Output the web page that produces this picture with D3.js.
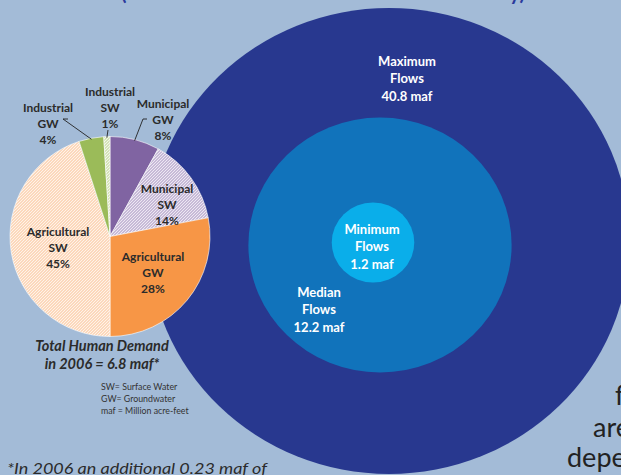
<!DOCTYPE html>
<html><head><meta charset="utf-8">
<script src="https://cdn.jsdelivr.net/npm/d3@7"></script>
<style>
html,body{margin:0;padding:0;background:#A3BBD7;overflow:hidden;}
svg{display:block;}
text{font-family:Lato,"Open Sans",sans-serif;}
</style></head>
<body>
<svg id="chart" width="621" height="475"></svg>
<script>
// ---- data ----
const flowNames = ["Maximum", "Median", "Minimum"];
const flowValues = [40.8, 12.2, 1.2];
const flowUnit = "maf";

const pieUses = ["Municipal", "Municipal", "Agricultural", "Agricultural", "Industrial", "Industrial"];
const pieSources = ["GW", "SW", "GW", "SW", "GW", "SW"];
const pieValues = [8, 14, 28, 45, 4, 1];

const demandLines = ["Total Human Demand", "in 2006 = 6.8 maf*"];
const noteLines = ["SW= Surface Water", "GW= Groundwater", "maf =  Million acre-feet"];
const footnote = "*In 2006 an additional 0.23 maf of";
const sideFragments = ["f", "are", "depe"];
const subtitle = "(Based on Natural Flow Records at Lees Ferry)";

// ---- styling / layout ----
const W = 621, H = 475;
const svg = d3.select("#chart");
const defs = svg.append("defs");
const useColor = {Municipal: "#8064A2", Agricultural: "#F79646", Industrial: "#9BBB59"};
const flowColors = ["#28388F", "#1173BB", "#0AAEEA"];

// hatch patterns for surface-water slices
function hatch(id, color, bg) {
  const p = defs.append("pattern").attr("id", id).attr("patternUnits", "userSpaceOnUse")
    .attr("width", 3).attr("height", 3);
  p.append("rect").attr("width", 3).attr("height", 3).attr("fill", bg);
  p.append("path").attr("d", "M-1,1 l2,-2 M0,3 l3,-3 M2,4 l2,-2")
    .attr("stroke", color).attr("stroke-width", 0.7);
}
hatch("h-Municipal", "#8064A2", "#EDE8F3");
hatch("h-Agricultural", "#F5A66A", "#FFF3E8");
hatch("h-Industrial", "#9BBB59", "#F2F6E8");

// subtitle sliver at very top
svg.append("text").attr("x", 323).attr("y", 0).attr("text-anchor", "middle")
  .attr("font-weight", "bold").attr("font-size", 20).attr("fill", "#2B3A9C")
  .attr("textLength", 404).attr("lengthAdjust", "spacingAndGlyphs").text(subtitle);

// ---- flow circles (area proportional to value) ----
const rScale = d3.scaleSqrt().domain([0, d3.max(flowValues)]).range([0, 233]);
const stretch = 1.033;
const centers = [[389, 241], [380, 245], [373, 242.5]];
const flows = flowNames.map((n, i) => ({name: n, value: flowValues[i], c: centers[i], color: flowColors[i]}));
svg.append("g").selectAll("ellipse").data(flows).join("ellipse")
  .attr("cx", d => d.c[0]).attr("cy", d => d.c[1])
  .attr("rx", d => rScale(d.value) * stretch).attr("ry", d => rScale(d.value))
  .attr("fill", d => d.color);

const flowLabelPos = [[407, 61], [319, 292], [372, 229]];
flows.forEach((d, i) => {
  const t = svg.append("text").attr("text-anchor", "middle").attr("fill", "#fff")
    .attr("font-weight", "bold").attr("font-size", 13);
  [d.name, "Flows", d.value + " " + flowUnit].forEach((s, j) => {
    t.append("tspan").attr("x", flowLabelPos[i][0]).attr("y", flowLabelPos[i][1] + 4.5 + j * 17.5).text(s);
  });
});

// ---- pie ----
const pcx = 110, pcy = 236.5, pr = 100;
const pieData = pieValues.map((v, i) => ({use: pieUses[i], src: pieSources[i], value: v}));
const arcs = d3.pie().sort(null).value(d => d.value)(pieData);
const arc = d3.arc().innerRadius(0).outerRadius(pr);
const pg = svg.append("g").attr("transform", `translate(${pcx},${pcy})`);
pg.selectAll("path").data(arcs).join("path").attr("d", arc)
  .attr("fill", d => d.data.src === "GW" ? useColor[d.data.use] : `url(#h-${d.data.use})`)
  .attr("stroke", "#fff").attr("stroke-width", 0.6);

// labels (relative offsets from pie centre), leader elbows
const labelOff = [[53, -132.5], [57, -47.5], [43, 20.5], [-52, -4.5], [-62, -128.5], [0, -144.5]];
const elbow = [[[37, -117.5], [33, -117.5]], null, null, null, [[-42, -117.5], [-47, -117.5]], [[-2, -106.5]]];
const lbl = svg.append("g").attr("transform", `translate(${pcx},${pcy})`);
arcs.forEach((a, i) => {
  const d = a.data;
  const t = lbl.append("text").attr("text-anchor", "middle").attr("fill", "#2B2B2B")
    .attr("font-weight", "bold").attr("font-size", 12);
  [d.use, d.src, d.value + "%"].forEach((s, j) => {
    t.append("tspan").attr("x", labelOff[i][0]).attr("y", labelOff[i][1] + 4 + j * 16).text(s);
  });
  if (elbow[i]) {
    const mid = (a.startAngle + a.endAngle) / 2;
    const end = [Math.sin(mid) * pr * 0.99, -Math.cos(mid) * pr * 0.99];
    const pts = elbow[i].concat([end]);
    lbl.append("path").attr("d", d3.line()(pts)).attr("fill", "none")
      .attr("stroke", "#222").attr("stroke-width", 0.9);
  }
});

// demand caption
const dt = svg.append("text").attr("text-anchor", "middle").attr("fill", "#2B2B2B")
  .attr("font-weight", "bold").attr("font-style", "italic").attr("font-size", 14.5);
demandLines.forEach((s, j) => dt.append("tspan").attr("x", 102).attr("y", 351 + j * 17.5).text(s));

// abbreviations note
const nt = svg.append("text").attr("fill", "#333").attr("font-size", 8.8);
noteLines.forEach((s, j) => nt.append("tspan").attr("x", 101).attr("y", 390 + j * 11.8).text(s));

// footnote
svg.append("text").attr("x", 7).attr("y", 474).attr("fill", "#2B2B2B")
  .attr("font-style", "italic").attr("font-size", 15.5)
  .attr("textLength", 260).attr("lengthAdjust", "spacingAndGlyphs").text(footnote);

// right-side cut paragraph fragments
const sideX = [615, 593, 567], sideY = [405, 437, 467];
sideFragments.forEach((s, j) => svg.append("text").attr("x", sideX[j]).attr("y", sideY[j])
  .attr("fill", "#222").attr("font-size", 27).text(s));
</script>
</body></html>
